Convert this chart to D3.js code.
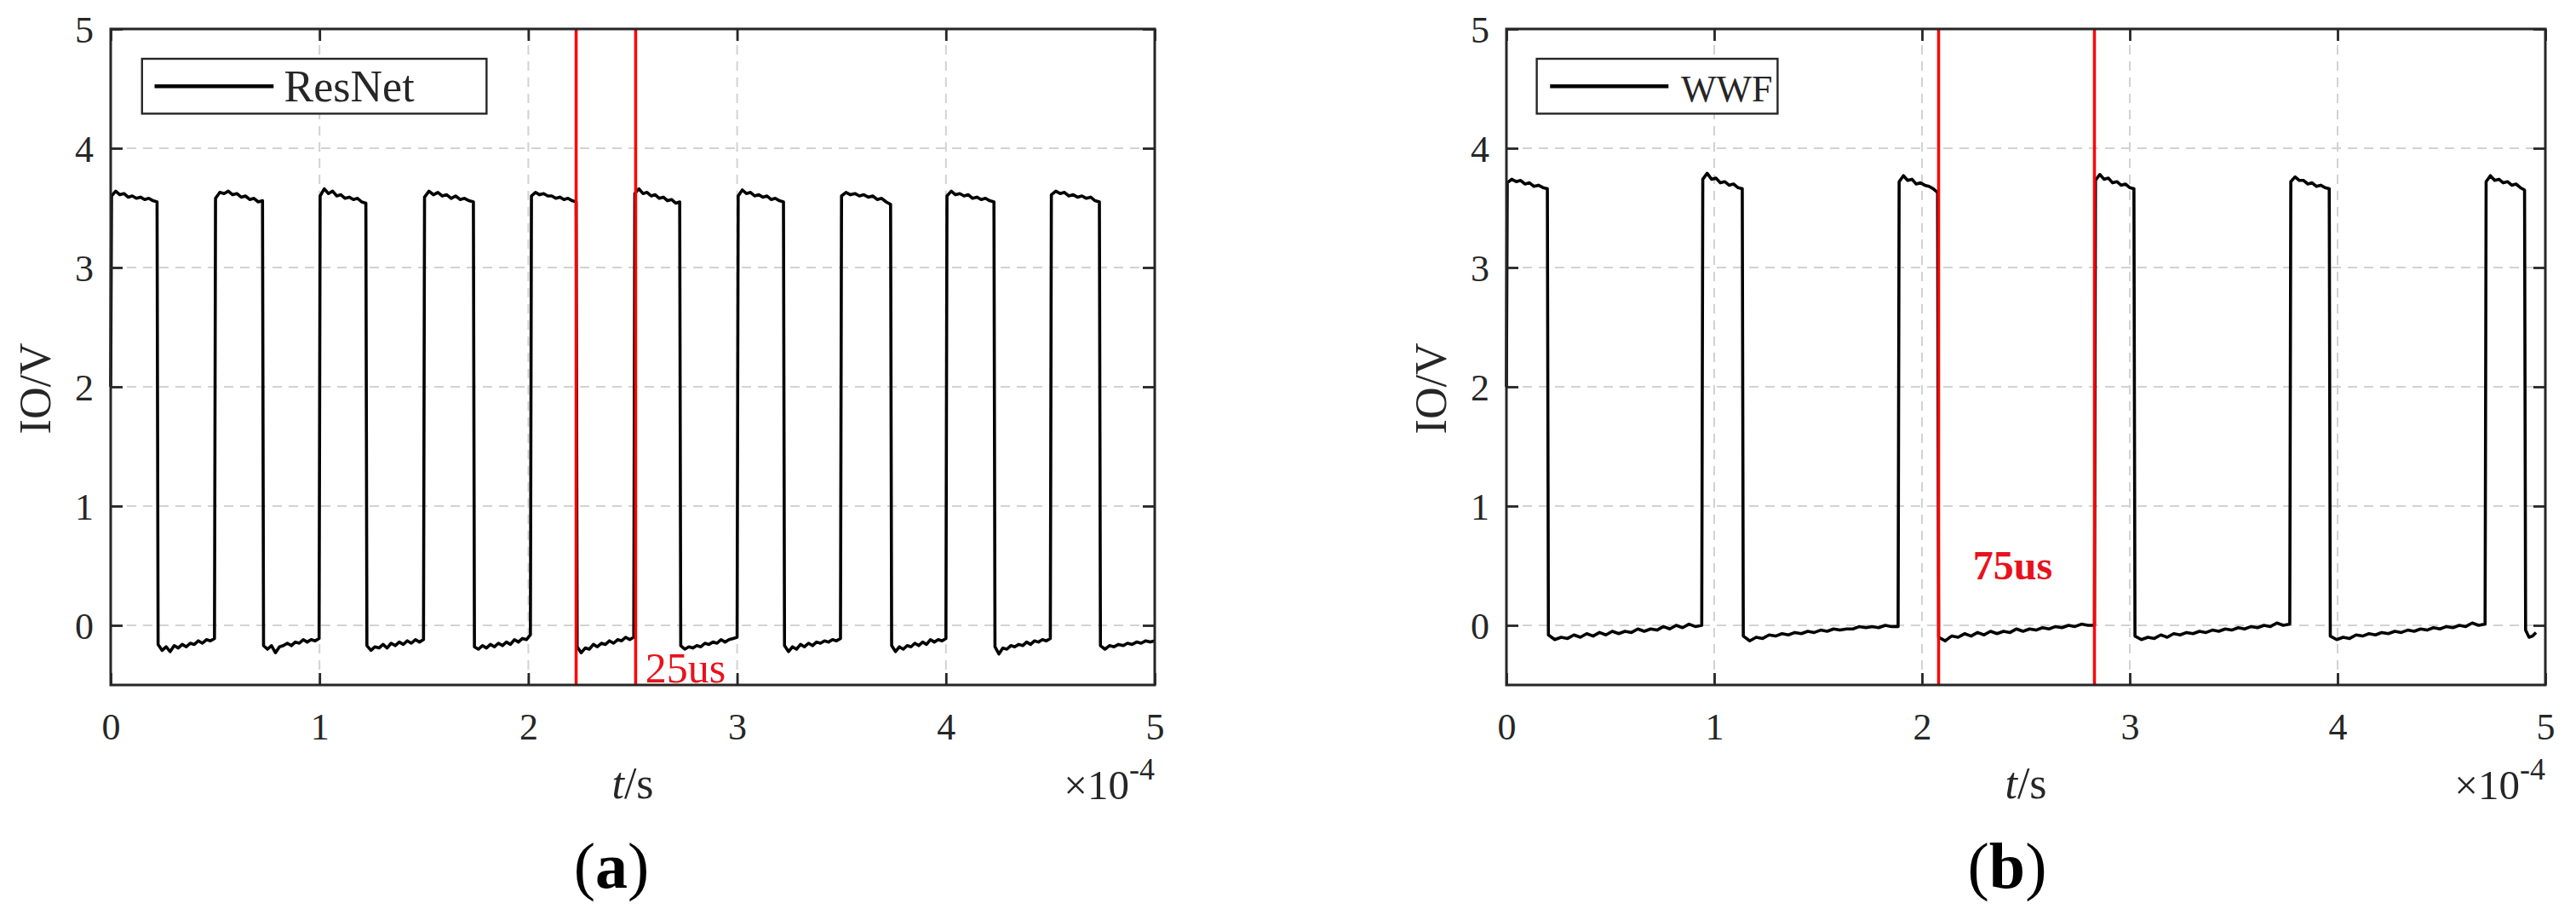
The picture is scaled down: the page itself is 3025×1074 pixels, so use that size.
<!DOCTYPE html>
<html><head><meta charset="utf-8">
<script src="https://cdn.jsdelivr.net/npm/d3@7"></script>
<style>
body{margin:0;background:#fff;}
svg{display:block;font-family:"Liberation Serif","Times New Roman",serif;}
</style>
</head><body>
<svg id="chart" width="3025" height="1074"></svg>
<script>
// ---------- data (time in units of 1e-4 s, voltage in V) ----------
const xTicks = [0, 1, 2, 3, 4, 5];
const yTicks = [0, 1, 2, 3, 4, 5];
const xTickLabels = ["0", "1", "2", "3", "4", "5"];
const yTickLabels = ["0", "1", "2", "3", "4", "5"];

const seriesNames = ["ResNet", "WWF"];

// ResNet: switching instants and sampled levels of each high / low segment
const resnetStart = 2.0;
const resnetEdges = [0, 0.222, 0.497, 0.727, 0.998, 1.222, 1.498, 1.737, 2.01, 2.229, 2.505,
                     2.725, 3.0, 3.222, 3.495, 3.735, 4.0, 4.23, 4.5, 4.735, 5.0];
const resnetLevels = [
  [3.60, 3.64, 3.61, 3.62, 3.59, 3.60, 3.58, 3.59, 3.57, 3.58, 3.56, 3.55],
  [-0.16, -0.21, -0.18, -0.22, -0.17, -0.19, -0.16, -0.18, -0.15, -0.16, -0.13, -0.15, -0.12, -0.13, -0.11],
  [3.58, 3.63, 3.62, 3.64, 3.61, 3.62, 3.59, 3.60, 3.57, 3.58, 3.55, 3.56],
  [-0.17, -0.20, -0.17, -0.23, -0.18, -0.17, -0.15, -0.17, -0.14, -0.15, -0.12, -0.14, -0.12, -0.13, -0.11],
  [3.60, 3.66, 3.62, 3.64, 3.60, 3.61, 3.58, 3.59, 3.57, 3.58, 3.55, 3.54],
  [-0.17, -0.21, -0.18, -0.19, -0.16, -0.19, -0.15, -0.17, -0.14, -0.16, -0.13, -0.15, -0.12, -0.14, -0.12],
  [3.59, 3.64, 3.61, 3.63, 3.60, 3.61, 3.58, 3.60, 3.57, 3.58, 3.56, 3.55],
  [-0.18, -0.20, -0.17, -0.19, -0.16, -0.18, -0.15, -0.17, -0.14, -0.16, -0.12, -0.14, -0.11, -0.12, -0.08],
  [3.60, 3.63, 3.61, 3.62, 3.60, 3.60, 3.58, 3.59, 3.57, 3.58, 3.56, 3.55],
  [-0.18, -0.23, -0.19, -0.20, -0.16, -0.18, -0.15, -0.16, -0.13, -0.15, -0.12, -0.13, -0.10, -0.12, -0.10],
  [3.62, 3.66, 3.62, 3.63, 3.60, 3.61, 3.58, 3.59, 3.56, 3.57, 3.54, 3.55],
  [-0.17, -0.20, -0.18, -0.19, -0.17, -0.18, -0.15, -0.16, -0.14, -0.15, -0.12, -0.14, -0.12, -0.11, -0.10],
  [3.60, 3.65, 3.62, 3.63, 3.60, 3.61, 3.59, 3.60, 3.57, 3.58, 3.56, 3.55],
  [-0.17, -0.22, -0.18, -0.20, -0.16, -0.18, -0.15, -0.17, -0.14, -0.15, -0.13, -0.14, -0.12, -0.13, -0.11],
  [3.60, 3.63, 3.61, 3.62, 3.60, 3.61, 3.59, 3.60, 3.57, 3.58, 3.55, 3.53],
  [-0.17, -0.22, -0.18, -0.20, -0.17, -0.18, -0.15, -0.17, -0.14, -0.16, -0.12, -0.14, -0.12, -0.13, -0.11],
  [3.60, 3.64, 3.61, 3.62, 3.60, 3.61, 3.58, 3.59, 3.57, 3.58, 3.56, 3.55],
  [-0.18, -0.24, -0.19, -0.20, -0.17, -0.18, -0.16, -0.17, -0.14, -0.16, -0.13, -0.14, -0.12, -0.13, -0.11],
  [3.61, 3.64, 3.62, 3.63, 3.60, 3.61, 3.59, 3.60, 3.58, 3.59, 3.56, 3.55],
  [-0.17, -0.20, -0.17, -0.18, -0.16, -0.17, -0.15, -0.16, -0.14, -0.15, -0.13, -0.14, -0.13]
];

// WWF
const wwfStart = 2.0;
const wwfEdges = [0, 0.197, 0.94, 1.135, 1.885, 2.075, 2.83, 3.02, 3.77, 3.96, 4.71, 4.90, 4.955];
const wwfLevels = [
  [3.71, 3.74, 3.72, 3.73, 3.70, 3.71, 3.68, 3.69, 3.67, 3.66],
  [-0.08, -0.12, -0.10, -0.11, -0.08, -0.10, -0.07, -0.09, -0.06, -0.08, -0.05, -0.07, -0.05, -0.06, -0.03, -0.05, -0.03, -0.04, -0.01, -0.03, 0.00, -0.02, 0.01, -0.01, 0.00],
  [3.74, 3.79, 3.74, 3.75, 3.71, 3.72, 3.69, 3.70, 3.67, 3.66],
  [-0.09, -0.13, -0.10, -0.11, -0.08, -0.09, -0.07, -0.08, -0.06, -0.07, -0.05, -0.06, -0.04, -0.05, -0.03, -0.04, -0.03, -0.03, -0.01, -0.02, -0.01, -0.02, 0.00, -0.01, -0.01],
  [3.72, 3.77, 3.73, 3.74, 3.70, 3.71, 3.69, 3.68, 3.66, 3.63],
  [-0.10, -0.13, -0.09, -0.10, -0.07, -0.09, -0.06, -0.08, -0.05, -0.07, -0.05, -0.06, -0.03, -0.05, -0.03, -0.04, -0.02, -0.03, -0.01, -0.02, 0.00, -0.01, 0.01, 0.00, 0.00],
  [3.73, 3.78, 3.74, 3.75, 3.71, 3.72, 3.69, 3.70, 3.67, 3.66],
  [-0.09, -0.12, -0.10, -0.11, -0.08, -0.10, -0.07, -0.08, -0.06, -0.07, -0.05, -0.06, -0.04, -0.05, -0.03, -0.04, -0.02, -0.03, -0.01, -0.02, 0.00, -0.01, 0.02, 0.00, 0.01],
  [3.72, 3.76, 3.73, 3.73, 3.70, 3.71, 3.68, 3.69, 3.67, 3.66],
  [-0.09, -0.12, -0.10, -0.11, -0.08, -0.09, -0.07, -0.08, -0.06, -0.07, -0.05, -0.06, -0.04, -0.05, -0.03, -0.04, -0.02, -0.03, -0.01, -0.02, 0.00, -0.01, 0.02, 0.00, 0.01],
  [3.72, 3.77, 3.73, 3.74, 3.71, 3.72, 3.69, 3.70, 3.67, 3.65],
  [-0.04, -0.10, -0.09, -0.06]
];

// red cursor markers (1e-4 s) and their annotations
const resnetMarkers = [2.229, 2.514];
const wwfMarkers = [2.08, 2.83];
const annotations = ["25us", "75us"];
const panelLetters = ["a", "b"];

// ---------- drawing ----------
const svg = d3.select("#chart");
const TOP = 34, BOTTOM = 804;
const INK = "#262626";

function buildTrace(edges, levels, start) {
  const pts = [[edges[0], start]];
  levels.forEach((vals, i) => {
    const t0 = edges[i] + (i === 0 ? 0.004 : 0.005), t1 = edges[i + 1];
    vals.forEach((v, j) => pts.push([t0 + (t1 - t0) * j / (vals.length - 1), v]));
  });
  return pts;
}

const panels = [
  { left: 130, right: 1356, name: seriesNames[0], trace: buildTrace(resnetEdges, resnetLevels, resnetStart),
    markers: resnetMarkers, note: annotations[0], noteBold: false, noteX: 2.56, noteY: -0.48, noteFont: 50,
    legendX: [0.15, 1.80], legendLine: [0.21, 0.78], legendText: 0.83, legendFont: 52,
    letter: panelLetters[0], letterX: 718, ylabX: 41 },
  { left: 1769, right: 2989, name: seriesNames[1], trace: buildTrace(wwfEdges, wwfLevels, wwfStart),
    markers: wwfMarkers, note: annotations[1], noteBold: true, noteX: 2.245, noteY: 0.385, noteFont: 48,
    legendX: [0.146, 1.305], legendLine: [0.21, 0.78], legendText: 0.84, legendFont: 44,
    letter: panelLetters[1], letterX: 2357, ylabX: 1680 }
];

panels.forEach(p => {
  const x = d3.scaleLinear().domain([0, 5]).range([p.left, p.right]);
  const y = d3.scaleLinear().domain([-0.5, 5]).range([BOTTOM, TOP]);
  const g = svg.append("g");

  // grid
  g.append("g").selectAll("line").data(xTicks.filter(t => t > 0 && t < 5)).join("line")
    .attr("x1", d => x(d)).attr("x2", d => x(d)).attr("y1", TOP).attr("y2", BOTTOM)
    .attr("stroke", "#d2d2d2").attr("stroke-width", 2).attr("stroke-dasharray", "11,8");
  g.append("g").selectAll("line").data(yTicks.filter(t => t < 5)).join("line")
    .attr("x1", p.left).attr("x2", p.right).attr("y1", d => y(d)).attr("y2", d => y(d))
    .attr("stroke", "#d2d2d2").attr("stroke-width", 2).attr("stroke-dasharray", "11,8");

  // trace
  g.append("path").datum(p.trace)
    .attr("fill", "none").attr("stroke", "#000").attr("stroke-width", 3.6)
    .attr("stroke-linejoin", "round")
    .attr("d", d3.line().x(d => x(d[0])).y(d => y(d[1])));

  // red cursors
  g.append("g").selectAll("line").data(p.markers).join("line")
    .attr("x1", d => x(d)).attr("x2", d => x(d)).attr("y1", y(5)).attr("y2", y(-0.5))
    .attr("stroke", "#f00").attr("stroke-width", 3.5);

  g.append("text").attr("x", x(p.noteX)).attr("y", y(p.noteY))
    .attr("fill", "#e8121c").attr("font-size", p.noteFont).attr("font-weight", p.noteBold ? "bold" : "normal")
    .text(p.note);

  // axes (ticks inside on all four sides)
  const ax = [
    g.append("g").attr("transform", `translate(0,${BOTTOM})`)
      .call(d3.axisBottom(x).tickValues(xTicks).tickFormat((d, i) => xTickLabels[i]).tickSize(-14).tickSizeOuter(0)),
    g.append("g").attr("transform", `translate(0,${TOP})`)
      .call(d3.axisTop(x).tickValues(xTicks).tickFormat("").tickSize(-14).tickSizeOuter(0)),
    g.append("g").attr("transform", `translate(${p.left},0)`)
      .call(d3.axisLeft(y).tickValues(yTicks).tickFormat((d, i) => yTickLabels[i]).tickSize(-14).tickSizeOuter(0)),
    g.append("g").attr("transform", `translate(${p.right},0)`)
      .call(d3.axisRight(y).tickValues(yTicks).tickFormat("").tickSize(-14).tickSizeOuter(0))
  ];
  ax.forEach(a => {
    a.select(".domain").remove();
    a.selectAll(".tick line").attr("stroke", INK).attr("stroke-width", 2.8);
    a.selectAll(".tick text").attr("fill", INK).attr("font-size", 44)
      .attr("font-family", "Liberation Serif, Times New Roman, serif");
  });
  ax[0].selectAll(".tick text").attr("y", 49).attr("dy", "0.35em");
  ax[2].selectAll(".tick text").attr("x", -20).attr("dy", "0.35em");

  g.append("rect").attr("x", p.left).attr("y", TOP).attr("width", p.right - p.left).attr("height", BOTTOM - TOP)
    .attr("fill", "none").attr("stroke", INK).attr("stroke-width", 3);

  // legend
  g.append("rect").attr("x", x(p.legendX[0])).attr("y", y(4.75))
    .attr("width", x(p.legendX[1]) - x(p.legendX[0])).attr("height", y(4.29) - y(4.75))
    .attr("fill", "#fff").attr("stroke", INK).attr("stroke-width", 2.4);
  g.append("line").attr("x1", x(p.legendLine[0])).attr("x2", x(p.legendLine[1]))
    .attr("y1", y(4.52)).attr("y2", y(4.52)).attr("stroke", "#000").attr("stroke-width", 4.5);
  g.append("text").attr("x", x(p.legendText)).attr("y", y(4.39))
    .attr("font-size", p.legendFont).attr("fill", INK).text(p.name);

  // axis titles
  const cx = (p.left + p.right) / 2;
  const xl = g.append("text").attr("x", cx).attr("y", 937).attr("text-anchor", "middle")
    .attr("font-size", 52).attr("fill", INK);
  xl.append("tspan").attr("font-style", "italic").text("t");
  xl.append("tspan").text("/s");

  const ex = g.append("text").attr("x", p.right).attr("y", 938).attr("text-anchor", "end")
    .attr("font-size", 49).attr("fill", INK);
  ex.append("tspan").text("\u00d710");
  ex.append("tspan").attr("font-size", 36).attr("dy", -23).text("-4");

  g.append("text").attr("transform", `translate(${p.ylabX},456) rotate(-90)`)
    .attr("text-anchor", "middle").attr("dy", "0.35em").attr("font-size", 52).attr("fill", INK)
    .text("IO/V");

  const lt = g.append("text").attr("x", p.letterX).attr("y", 1042).attr("text-anchor", "middle")
    .attr("font-size", 76).attr("fill", "#000");
  lt.append("tspan").text("(");
  lt.append("tspan").attr("font-weight", "bold").text(p.letter);
  lt.append("tspan").text(")");
});
</script>
</body></html>
